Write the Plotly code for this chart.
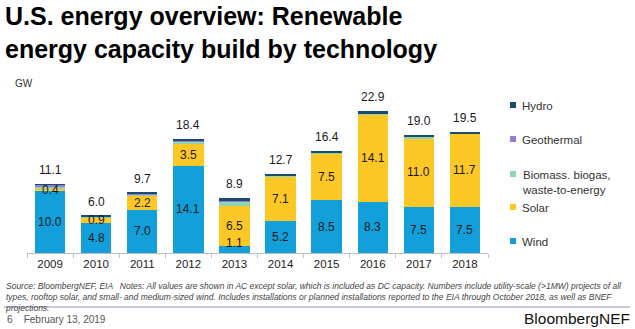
import plotly.graph_objects as go

# Annual U.S. renewable capacity additions (GW) by technology
years = ["2009", "2010", "2011", "2012", "2013", "2014", "2015", "2016", "2017", "2018"]
wind = [10.0, 4.8, 7.0, 14.1, 1.1, 5.2, 8.5, 8.3, 7.5, 7.5]
solar = [0.4, 0.9, 2.2, 3.5, 6.5, 7.1, 7.5, 14.1, 11.0, 11.7]
biomass = [0.4, 0.2, 0.3, 0.4, 0.7, 0.2, 0.2, 0.1, 0.3, 0.15]
geothermal = [0.2, 0.05, 0.1, 0.1, 0.1, 0.05, 0.0, 0.0, 0.0, 0.0]
hydro = [0.1, 0.05, 0.1, 0.3, 0.5, 0.15, 0.2, 0.4, 0.2, 0.15]
totals = [11.1, 6.0, 9.7, 18.4, 8.9, 12.7, 16.4, 22.9, 19.0, 19.5]

series = [
    ("Wind", wind, "#139FDA"),
    ("Solar", solar, "#FDC725"),
    ("Biomass. biogas,<br>waste-to-energy", biomass, "#8FD3B2"),
    ("Geothermal", geothermal, "#9B7BD0"),
    ("Hydro", hydro, "#1B4C6E"),
]

FONT = "Liberation Sans, Arial, sans-serif"
fig = go.Figure()
for name, vals, col in series:
    fig.add_trace(go.Bar(
        x=years, y=vals, name=name, marker=dict(color=col, line=dict(width=0)),
        width=0.66, showlegend=False, hoverinfo="skip",
    ))

annotations = []
label_font = dict(family=FONT, size=12, color="#1a1a1a")
# Value labels centred inside the wind and solar segments, totals above each stack
for i in range(len(years)):
    if wind[i] < 2:
        # too thin for a centred label: sit it on the baseline instead
        annotations.append(dict(x=i, y=0, text=f"{wind[i]:.1f}", showarrow=False,
                                yanchor="bottom", yshift=1, font=label_font))
    else:
        annotations.append(dict(x=i, y=wind[i] / 2, text=f"{wind[i]:.1f}", showarrow=False,
                                font=label_font))
    annotations.append(dict(x=i, y=wind[i] + solar[i] / 2, text=f"{solar[i]:.1f}",
                            showarrow=False, font=label_font))
    annotations.append(dict(x=i, y=totals[i], text=f"{totals[i]:.1f}", showarrow=False,
                            yanchor="bottom", yshift=5, font=label_font))

# Legend, listed top to bottom
legend_items = [
    ("Hydro", "#1B4C6E", 105),
    ("Geothermal", "#9B7BD0", 139),
    ("Biomass. biogas,<br>waste-to-energy", "#8FD3B2", 174),
    ("Solar", "#FDC725", 207),
    ("Wind", "#139FDA", 241),
]
H = 329
W = 635
PX0, PW, PB, PH = 27, 461, 253, 163


def px(x):
    return (x - PX0) / PW


def py(y):
    return (PB - y) / PH


shapes = []
for label, col, ypx in legend_items:
    shapes.append(dict(type="rect", xref="paper", yref="paper",
                       x0=px(510), x1=px(516), y0=py(ypx + 3), y1=py(ypx - 3),
                       fillcolor=col, line=dict(width=0)))
    annotations.append(dict(xref="paper", yref="paper", x=px(520), y=py(ypx - 7),
                            xanchor="left", yanchor="top", text=label, showarrow=False,
                            align="left", font=dict(family=FONT, size=11.5, color="#333333")))

# Title
annotations.append(dict(xref="paper", yref="paper", x=px(3), y=py(0),
                        xanchor="left", yanchor="top", showarrow=False, align="left",
                        text="<b>U.S. energy overview: Renewable<br>energy capacity build by technology</b>",
                        font=dict(family=FONT, size=25, color="#000000")))
# Unit label
annotations.append(dict(xref="paper", yref="paper", x=px(13), y=py(83),
                        xanchor="left", yanchor="middle", showarrow=False, text="GW",
                        font=dict(family=FONT, size=10, color="#333333")))
# Footnote
annotations.append(dict(xref="paper", yref="paper", x=px(3), y=py(279),
                        xanchor="left", yanchor="top", showarrow=False, align="left",
                        text="<i>Source: BloombergNEF, EIA   Notes: All values are shown in AC except solar, which is included as DC capacity. Numbers include utility-scale (&gt;1MW) projects of all<br>"
                             "types, rooftop solar, and small- and medium-sized wind. Includes installations or planned installations reported to the EIA through October 2018, as well as BNEF<br>"
                             "projections.</i>",
                        font=dict(family=FONT, size=8.5, color="#444444")))
shapes.append(dict(type="line", xref="paper", yref="paper",
                   x0=px(4), x1=px(630), y0=py(307), y1=py(307),
                   line=dict(color="#9B8FCB", width=1)))
annotations.append(dict(xref="paper", yref="paper", x=px(5), y=py(319),
                        xanchor="left", yanchor="middle", showarrow=False,
                        text="6&nbsp;&nbsp;&nbsp;&nbsp;February 13, 2019",
                        font=dict(family=FONT, size=10, color="#555555")))
annotations.append(dict(xref="paper", yref="paper", x=px(632), y=py(318),
                        xanchor="right", yanchor="middle", showarrow=False,
                        text="BloombergNEF",
                        font=dict(family=FONT, size=15.5, color="#111111")))

fig.update_layout(
    barmode="stack",
    width=W, height=H,
    margin=dict(l=PX0, r=W - PX0 - PW, t=PB - PH, b=H - PB),
    plot_bgcolor="white", paper_bgcolor="white",
    xaxis=dict(type="category", showline=True, linecolor="#BFBFBF", linewidth=1,
               ticks="outside", tickson="boundaries", ticklen=4, tickcolor="#BFBFBF",
               tickfont=dict(family=FONT, size=11.5, color="#222222"),
               range=[-0.5, 9.5], fixedrange=True),
    yaxis=dict(visible=False, range=[0, PH / 6.2], fixedrange=True),
    annotations=annotations,
    shapes=shapes,
    showlegend=False,
)

fig.write_html("out.html")
